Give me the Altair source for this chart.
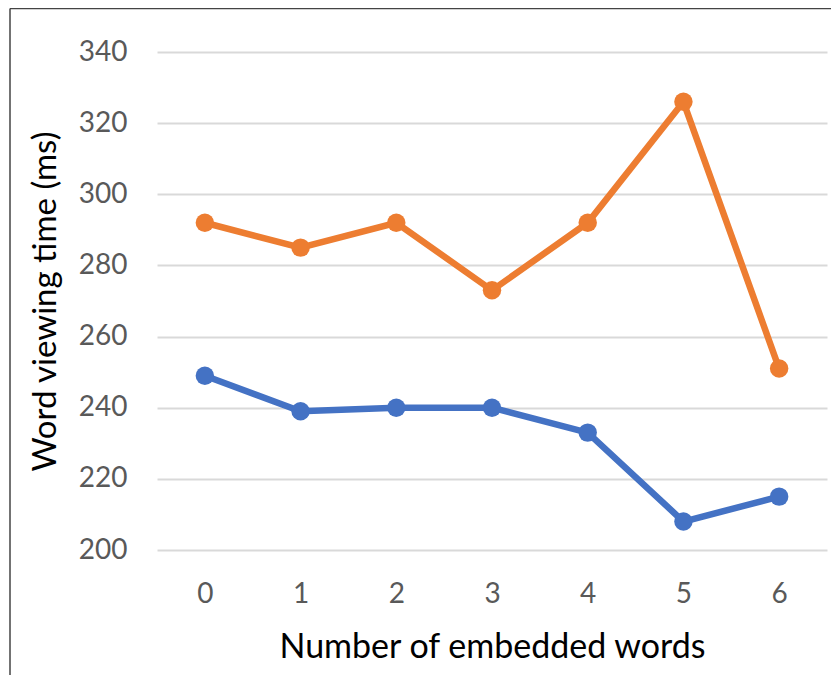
import altair as alt
import pandas as pd

categories = ["0", "1", "2", "3", "4", "5", "6"]
series_orange = [292, 285, 292, 273, 292, 326, 251]
series_blue = [249, 239, 240, 240, 233, 208, 215]
y_ticks = [200, 220, 240, 260, 280, 300, 320, 340]

rows = []
for c, v in zip(categories, series_blue):
    rows.append({"words": c, "time": v, "series": "blue"})
for c, v in zip(categories, series_orange):
    rows.append({"words": c, "time": v, "series": "orange"})
df = pd.DataFrame(rows)

font = "Lato"

x_enc = alt.X("words:O", sort=categories,
              scale=alt.Scale(type="point", padding=0.5),
              axis=alt.Axis(title="Number of embedded words", labelAngle=0,
                            labelFontSize=28, labelColor="#595959", labelFont=font,
                            labelPadding=30, titleFontSize=34, titleFont=font,
                            titleFontWeight="normal", titleColor="#000000",
                            titlePadding=22, domain=False, ticks=False, grid=False))
y_enc = alt.Y("time:Q", scale=alt.Scale(domain=[200, 340], nice=False, zero=False),
              axis=alt.Axis(title="Word viewing time (ms)", values=y_ticks,
                            labelFontSize=28, labelColor="#595959", labelFont=font,
                            labelPadding=30, titleFontSize=33, titleFont=font,
                            titleFontWeight="normal", titleColor="#000000",
                            titlePadding=16, domain=False, ticks=False,
                            grid=True, gridColor="#d9d9d9", gridWidth=2))
color_enc = alt.Color("series:N",
                      scale=alt.Scale(domain=["blue", "orange"], range=["#4472C4", "#ED7D31"]),
                      legend=None)

base = alt.Chart(df)
lines = base.mark_line(strokeWidth=6.5).encode(x=x_enc, y=y_enc, color=color_enc, detail="series:N")
points = base.mark_circle(size=340, opacity=1).encode(x=x_enc, y=y_enc, color=color_enc)

one = pd.DataFrame({"a": [0]})
border_top = alt.Chart(one).mark_rule(stroke="#444444", strokeWidth=1.5, clip=False).encode(
    x=alt.value(-147), x2=alt.value(700), y=alt.value(-43.5))
border_left = alt.Chart(one).mark_rule(stroke="#444444", strokeWidth=1.5, clip=False).encode(
    x=alt.value(-147), y=alt.value(-43.5), y2=alt.value(700))

chart = alt.layer(border_top, border_left, lines, points).properties(
    width=670, height=498,
    autosize=alt.AutoSizeParams(type="none"),
    padding={"left": 149, "top": 44, "right": 4, "bottom": 125},
).configure_view(stroke=None)

chart.save("out.html", embed_options={"renderer": "svg", "actions": False})
